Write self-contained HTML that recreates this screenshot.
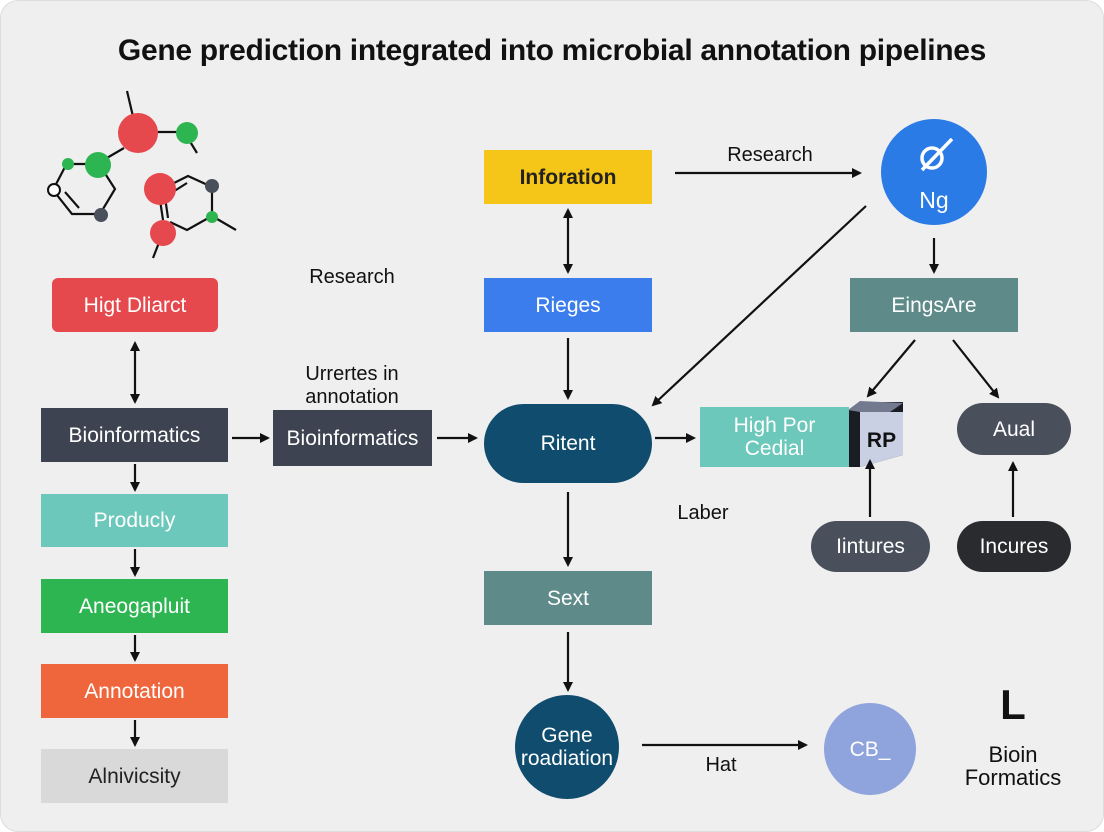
<!DOCTYPE html>
<html><head><meta charset="utf-8"><style>
body{margin:0;width:1104px;height:832px;background:#fff;font-family:"Liberation Sans",sans-serif;overflow:hidden}
.frame{position:absolute;left:0;top:0;width:1102px;height:830px;background:#efefef;border:1px solid #ddd;border-radius:18px}
.b{position:absolute;display:flex;align-items:center;justify-content:center;text-align:center;color:#fff;font-size:21px;box-sizing:border-box;line-height:23px}
.t{position:absolute;font-size:20px;color:#111;text-align:center;line-height:23px}
</style></head><body>
<div class="frame"></div>
<div class="t" style="left:0;width:1104px;top:34px;font-size:30px;font-weight:bold;line-height:34px;letter-spacing:-0.3px">Gene prediction integrated into microbial annotation pipelines</div>

<svg width="1104" height="832" style="position:absolute;left:0;top:0">
<defs><marker id="a" markerWidth="10" markerHeight="10" refX="8" refY="5" orient="auto-start-reverse" markerUnits="userSpaceOnUse"><path d="M0,0 L10,5 L0,10 z" fill="#111"/></marker></defs>
<g stroke="#111" stroke-width="2.2" fill="none">
<line x1="127" y1="91" x2="135" y2="125"/><line x1="140" y1="132" x2="185" y2="132"/><line x1="186" y1="135" x2="197" y2="153"/>
<line x1="124" y1="148" x2="100" y2="162"/><line x1="68" y1="164" x2="96" y2="164"/>
<polyline points="66,165 53,190 72,214 100,214 115,189 106,175"/><line x1="65" y1="192" x2="79" y2="208"/>
<polyline points="162,189 188,176 212,187 212,216 187,230 170,222"/><line x1="168" y1="195" x2="187" y2="183"/>
<line x1="160" y1="200" x2="163" y2="220"/><line x1="165" y1="197" x2="168" y2="218"/><line x1="212" y1="216" x2="236" y2="230"/><line x1="160" y1="240" x2="153" y2="258"/>
</g>
<g>
<circle cx="138" cy="133" r="20" fill="#e5484d"/><circle cx="187" cy="133" r="11" fill="#2db552"/>
<circle cx="98" cy="165" r="13" fill="#2db552"/><circle cx="68" cy="164" r="6" fill="#2db552"/>
<circle cx="54" cy="190" r="6" fill="#fff" stroke="#111" stroke-width="2"/><circle cx="101" cy="215" r="7" fill="#4a4f5c"/>
<circle cx="160" cy="189" r="16" fill="#e5484d"/><circle cx="163" cy="233" r="13" fill="#e5484d"/>
<circle cx="212" cy="186" r="7" fill="#4a4f5c"/><circle cx="212" cy="217" r="6" fill="#2db552"/>
<circle cx="934" cy="172" r="53" fill="#2b7be6"/><circle cx="567" cy="747" r="52" fill="#0f4c6e"/><circle cx="870" cy="749" r="46" fill="#8fa3dc"/>
</g>
<g stroke="#fff" stroke-width="3.5" fill="none"><circle cx="932" cy="158" r="10"/><line x1="922" y1="170" x2="952" y2="139"/></g>
<polygon points="848,410 860,402 903,402 903,455 860,467 848,467" fill="#1a1d24"/>
<polygon points="860,412 903,412 903,455 860,467" fill="#c9d0e4"/>
<polygon points="848,410 860,401 903,403 890,412 860,412" fill="#737a90"/>
<g stroke="#111" stroke-width="2.2" fill="none" marker-end="url(#a)">
<line x1="135" y1="343" x2="135" y2="402" marker-start="url(#a)"/>
<line x1="135" y1="464" x2="135" y2="490"/><line x1="135" y1="549" x2="135" y2="575"/>
<line x1="135" y1="635" x2="135" y2="660"/><line x1="135" y1="720" x2="135" y2="745"/>
<line x1="232" y1="438" x2="268" y2="438"/><line x1="437" y1="438" x2="476" y2="438"/>
<line x1="568" y1="210" x2="568" y2="272" marker-start="url(#a)"/>
<line x1="568" y1="338" x2="568" y2="398"/>
<line x1="675" y1="173" x2="860" y2="173"/>
<line x1="866" y1="206" x2="653" y2="405"/>
<line x1="934" y1="238" x2="934" y2="272"/>
<line x1="915" y1="340" x2="868" y2="396"/><line x1="953" y1="340" x2="998" y2="397"/>
<line x1="655" y1="438" x2="694" y2="438"/>
<line x1="870" y1="517" x2="870" y2="461"/><line x1="1013" y1="517" x2="1013" y2="463"/>
<line x1="568" y1="492" x2="568" y2="565"/><line x1="568" y1="632" x2="568" y2="690"/>
<line x1="642" y1="745" x2="806" y2="745"/>
</g>
</svg>

<div class="b" style="left:52px;top:278px;width:166px;height:54px;background:#e5484d;border-radius:6px">Higt Dliarct</div>
<div class="b" style="left:41px;top:408px;width:187px;height:54px;background:#3d4350">Bioinformatics</div>
<div class="b" style="left:41px;top:494px;width:187px;height:53px;background:#6cc8bb">Producly</div>
<div class="b" style="left:41px;top:579px;width:187px;height:54px;background:#2db552">Aneogapluit</div>
<div class="b" style="left:41px;top:664px;width:187px;height:54px;background:#f0663c">Annotation</div>
<div class="b" style="left:41px;top:749px;width:187px;height:54px;background:#d9d9d9;color:#222">Alnivicsity</div>
<div class="b" style="left:273px;top:410px;width:159px;height:56px;background:#3d4350">Bioinformatics</div>
<div class="b" style="left:484px;top:150px;width:168px;height:54px;background:#f5c518;color:#222;font-weight:bold">Inforation</div>
<div class="b" style="left:484px;top:278px;width:168px;height:54px;background:#3b7ded">Rieges</div>
<div class="b" style="left:484px;top:404px;width:168px;height:79px;background:#0f4c6e;border-radius:40px">Ritent</div>
<div class="b" style="left:484px;top:571px;width:168px;height:54px;background:#5e8a8a">Sext</div>
<div class="b" style="left:510px;top:722px;width:114px;height:50px">Gene<br>roadiation</div>
<div class="b" style="left:880px;top:180px;width:108px;height:40px;font-size:23px">Ng</div>
<div class="b" style="left:850px;top:278px;width:168px;height:54px;background:#5e8a8a">EingsAre</div>
<div class="b" style="left:700px;top:407px;width:149px;height:60px;background:#6cc8bb">High Por<br>Cedial</div>
<div class="b" style="left:860px;top:420px;width:43px;height:40px;color:#111;font-size:21px;font-weight:bold">RP</div>
<div class="b" style="left:957px;top:403px;width:114px;height:52px;background:#4a4f5c;border-radius:26px">Aual</div>
<div class="b" style="left:811px;top:521px;width:119px;height:51px;background:#4a4f5c;border-radius:26px">Iintures</div>
<div class="b" style="left:957px;top:521px;width:114px;height:51px;background:#2a2b2e;border-radius:26px">Incures</div>
<div class="b" style="left:824px;top:729px;width:92px;height:40px">CB_</div>
<div class="t" style="left:282px;top:266px;width:140px">Research</div>
<div class="t" style="left:272px;top:363px;width:160px">Urrertes in<br>annotation</div>
<div class="t" style="left:700px;top:144px;width:140px">Research</div>
<div class="t" style="left:663px;top:502px;width:80px">Laber</div>
<div class="t" style="left:690px;top:754px;width:62px">Hat</div>
<div class="t" style="left:990px;top:682px;width:46px;font-size:42px;font-weight:bold;line-height:46px">L</div>
<div class="t" style="left:943px;top:743px;width:140px;font-size:22px;line-height:23px">Bioin<br>Formatics</div>
</body></html>
